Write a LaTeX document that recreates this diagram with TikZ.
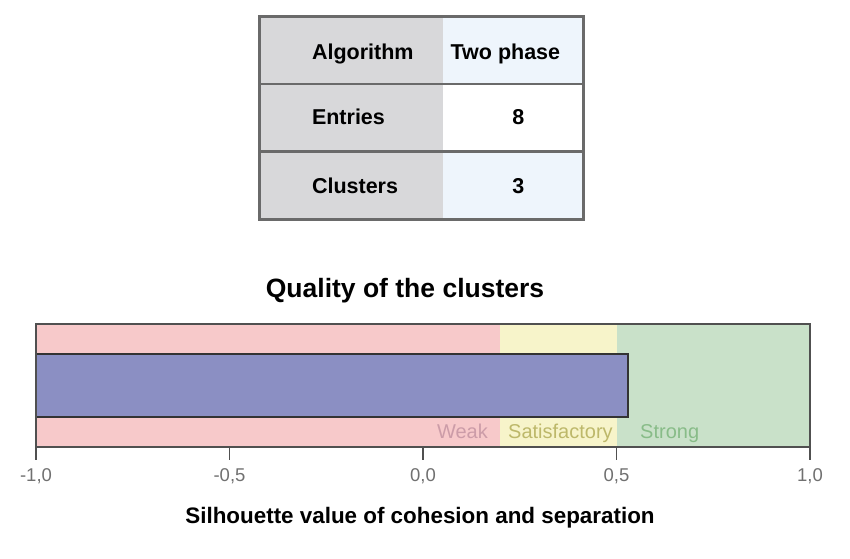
\documentclass[tikz,border=0pt]{standalone}
\usepackage{fontspec}
\setmainfont{Liberation Sans}
\usetikzlibrary{positioning}

\definecolor{cellgray}{HTML}{D8D8DA}
\definecolor{cellblue}{HTML}{EEF5FC}
\definecolor{tabline}{HTML}{6A6A6A}
\definecolor{chartline}{HTML}{505050}
\definecolor{weakred}{HTML}{F7C9CA}
\definecolor{okyellow}{HTML}{F7F4CA}
\definecolor{stronggreen}{HTML}{C9E1C9}
\definecolor{barblue}{HTML}{8B8FC3}
\definecolor{weaktext}{HTML}{CC9CA8}
\definecolor{oktext}{HTML}{BDB86A}
\definecolor{strongtext}{HTML}{88BC88}
\definecolor{ticktext}{HTML}{707070}

\begin{document}
\begin{tikzpicture}[x=1pt, y=-1pt, node distance=0pt,
    lcell/.style={fill=cellgray, minimum width=183pt, minimum height=67pt, inner sep=0pt},
    rcell/.style={minimum width=140pt, minimum height=67pt, inner sep=0pt},
    tabtext/.style={anchor=base, inner sep=0pt, font=\fontsize{21.5}{24}\selectfont\bfseries},
    zonetext/.style={anchor=base, inner sep=0pt, font=\fontsize{20}{24}\selectfont},
    ticklab/.style={anchor=base, inner sep=0pt, text=ticktext, font=\fontsize{18.5}{22}\selectfont}]

    \useasboundingbox (0,0) rectangle (850,558);

    % Table cells
    \node[lcell] (alg) at (351.5,50.5) {};
    \node[lcell, below=of alg] (ent) {};
    \node[lcell, below=of ent] (clu) {};
    \node[rcell, fill=cellblue, right=of alg] (algv) {};
    \node[rcell, fill=white, right=of ent] (entv) {};
    \node[rcell, fill=cellblue, right=of clu] (cluv) {};

    % Table texts
    \node[tabtext, anchor=base west] (talg) at ([xshift=52pt, yshift=-8.5pt]alg.west) {Algorithm};
    \node[tabtext, anchor=base west] (tent) at ([xshift=52pt, yshift=-7pt]ent.west) {Entries};
    \node[tabtext, anchor=base west] (tclu) at ([xshift=52pt, yshift=-8.5pt]clu.west) {Clusters};
    \node[tabtext] (talgv) at ([xshift=-8pt, yshift=-8.5pt]algv.center) {Two phase};
    \node[tabtext] (tentv) at ([xshift=5pt, yshift=-7pt]entv.center) {8};
    \node[tabtext] (tcluv) at ([xshift=5pt, yshift=-8.5pt]cluv.center) {3};

    % Table lines
    \draw[tabline, line width=2.5pt] (alg.south west) -- (algv.south east);
    \draw[tabline, line width=2.5pt] (ent.south west) -- (entv.south east);
    \draw[tabline, line width=3pt] (alg.north west) rectangle (cluv.south east);

    % Chart title
    \node[anchor=base, inner sep=0pt, font=\fontsize{26.5}{30}\selectfont\bfseries] (title) at (405,297) {Quality of the clusters};

    % Zones and bar
    \fill[weakred] (36,324) rectangle (500,447);
    \fill[okyellow] (500,324) rectangle (617,447);
    \fill[stronggreen] (617,324) rectangle (810,447);
    \draw[black!80, line width=1.5pt, fill=barblue] (36,354) rectangle (628,417);
    \draw[chartline, line width=1.5pt] (36,324) rectangle (810,447);

    % Zone labels
    \node[zonetext, anchor=base east, text=weaktext] (weak) at (488,438) {Weak};
    \node[zonetext, anchor=base west, text=oktext] (ok) at (508,438) {Satisfactory};
    \node[zonetext, anchor=base west, text=strongtext] (strong) at (640,438) {Strong};

    % Axis ticks
    \foreach \v/\lab [count=\i] in {-1/{-1,0}, -0.5/{-0,5}, 0/{0,0}, 0.5/{0,5}, 1/{1,0}} {
        \draw[chartline, line width=1.5pt] ({423+387*\v},447) -- ({423+387*\v},460);
        \node[ticklab] (tick\i) at ({423+387*\v},481) {\lab};
    }

    % Axis title
    \node[anchor=base, inner sep=0pt, font=\fontsize{22.4}{26}\selectfont\bfseries] (axis) at (420,523) {Silhouette value of cohesion and separation};

\end{tikzpicture}
\end{document}
